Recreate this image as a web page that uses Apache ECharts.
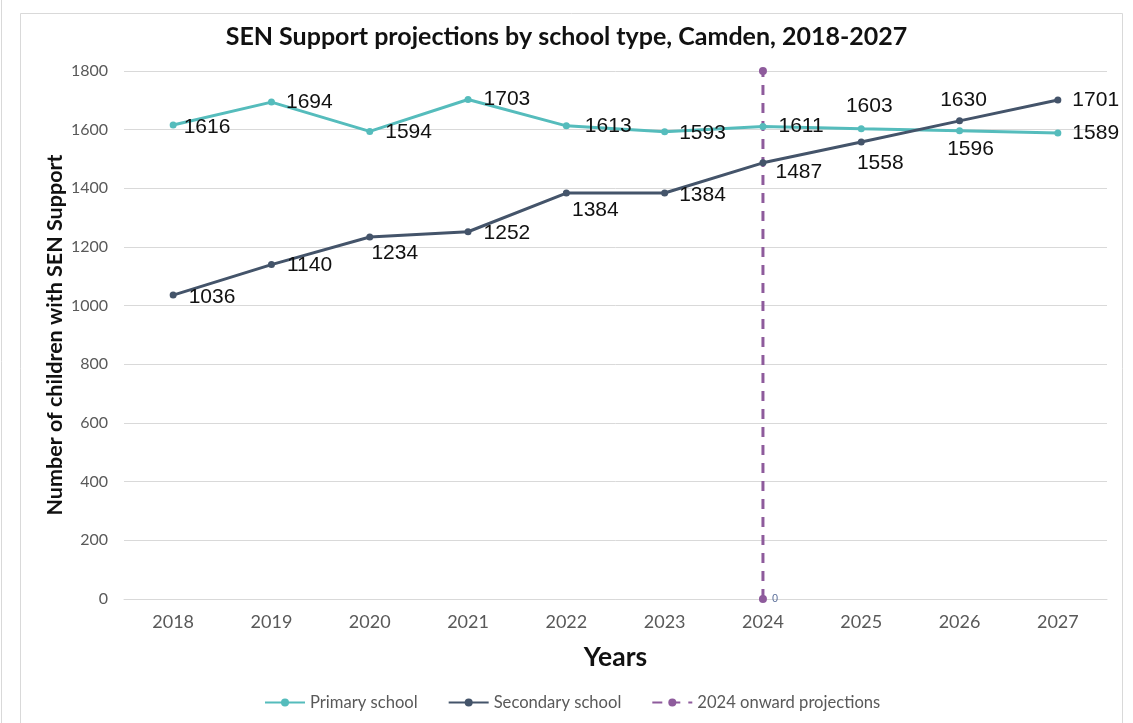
<!DOCTYPE html>
<html>
<head>
<meta charset="utf-8">
<script src="https://cdn.jsdelivr.net/npm/echarts@6/dist/echarts.min.js"></script>
<style>
html,body{margin:0;padding:0;background:#fff;}
#chart{width:1133px;height:723px;}
</style>
</head>
<body>
<div id="chart"></div>
<script>
const years = ['2018','2019','2020','2021','2022','2023','2024','2025','2026','2027'];
const primary = [1616,1694,1594,1703,1613,1593,1611,1603,1596,1589];
const secondary = [1036,1140,1234,1252,1384,1384,1487,1558,1630,1701];
const projectionYear = '2024';
const projectionValues = [0,1800];
const yTicks = {min:0, max:1800, interval:200};

// label placement (style only, not data)
const primaryLabelPos = [
  {position:'right', offset:[2,2]},
  {position:'right', offset:[6,0]},
  {position:'right', offset:[7,1]},
  {position:'right', offset:[7,0]},
  {position:'right', offset:[10,0]},
  {position:'right', offset:[6,1]},
  {position:'right', offset:[7,0]},
  {position:'top', offset:[8,-4]},
  {position:'bottom', offset:[11,-1]},
  {position:'right', offset:[6,0]}
];
const secondaryLabelPos = [
  {position:'right', offset:[7,2]},
  {position:'right', offset:[7,1]},
  {position:'bottom', offset:[25,-3]},
  {position:'right', offset:[7,1]},
  {position:'bottom', offset:[29,-2]},
  {position:'right', offset:[6,2]},
  {position:'right', offset:[4,9]},
  {position:'bottom', offset:[19,2]},
  {position:'top', offset:[4,-2]},
  {position:'right', offset:[6,0]}
];

const labelStyle = {fontFamily:'Liberation Sans, Arial, sans-serif', fontSize:21, color:'#111'};

function build(values, pos){
  return values.map((v,i)=>({value:v, label:Object.assign({show:true}, labelStyle, pos[i])}));
}

const chart = echarts.init(document.getElementById('chart'), null, {renderer:'canvas'});
chart.setOption({
  backgroundColor:'#fff',
  animation:false,
  title:{
    text:'SEN Support projections by school type, Camden, 2018-2027',
    left:'center', top:19,
    textStyle:{fontFamily:'Lato', fontWeight:'bold', fontSize:25, color:'#111'}
  },
  graphic:[
    {type:'rect', shape:{x:20.5,y:13.5,width:1102,height:720}, style:{fill:'none', stroke:'#d9d9d9', lineWidth:1}, silent:true},
    {type:'line', shape:{x1:1.5,y1:0,x2:1.5,y2:723}, style:{stroke:'#d9d9d9', lineWidth:1}, silent:true}
  ],
  legend:{
    top:689, left:259,
    itemWidth:40, itemHeight:10, itemGap:30,
    textStyle:{fontFamily:'Lato', fontSize:16.6, color:'#595959'},
    data:['Primary school','Secondary school','2024 onward projections']
  },
  grid:{left:124, right:26, top:71, bottom:124},
  xAxis:{
    type:'category', data:years, boundaryGap:true,
    name:'Years', nameLocation:'middle', nameGap:45,
    nameTextStyle:{fontFamily:'Lato', fontWeight:'bold', fontSize:26.5, color:'#111'},
    axisLine:{show:true, lineStyle:{color:'#d9d9d9', width:1}},
    axisTick:{show:false},
    axisLabel:{fontFamily:'Lato', fontSize:18, color:'#595959', margin:14}
  },
  yAxis:{
    type:'value', min:yTicks.min, max:yTicks.max, interval:yTicks.interval,
    name:'Number of children with SEN Support', nameLocation:'middle', nameGap:58,
    nameMoveOverlap:false,
    nameTextStyle:{fontFamily:'Lato', fontWeight:'bold', fontSize:21.5, color:'#111'},
    axisLine:{show:false}, axisTick:{show:false},
    axisLabel:{fontFamily:'Lato', fontSize:16, color:'#595959', margin:16, formatter:v=>String(v)},
    splitLine:{lineStyle:{color:'#d9d9d9', width:1}}
  },
  series:[
    {
      name:'Primary school', type:'line', data:build(primary, primaryLabelPos),
      symbol:'circle', symbolSize:7,
      lineStyle:{color:'#55BCBC', width:3},
      itemStyle:{color:'#55BCBC'}, z:3
    },
    {
      name:'Secondary school', type:'line', data:build(secondary, secondaryLabelPos),
      symbol:'circle', symbolSize:7,
      lineStyle:{color:'#44546A', width:3},
      itemStyle:{color:'#44546A'}, z:4
    },
    {
      name:'2024 onward projections', type:'line',
      data:projectionValues.map(v=>({value:[projectionYear, v],
        label:{show:v===0, position:'right', offset:[0,0], fontFamily:'Liberation Sans, Arial', fontSize:11, color:'#5b6f9a', formatter:p=>String(p.value[1])}})),
      symbol:'circle', symbolSize:8,
      lineStyle:{color:'#8E5B9C', width:3, type:[10,8]},
      itemStyle:{color:'#8E5B9C'}, z:2
    }
  ]
});
</script>
</body>
</html>
